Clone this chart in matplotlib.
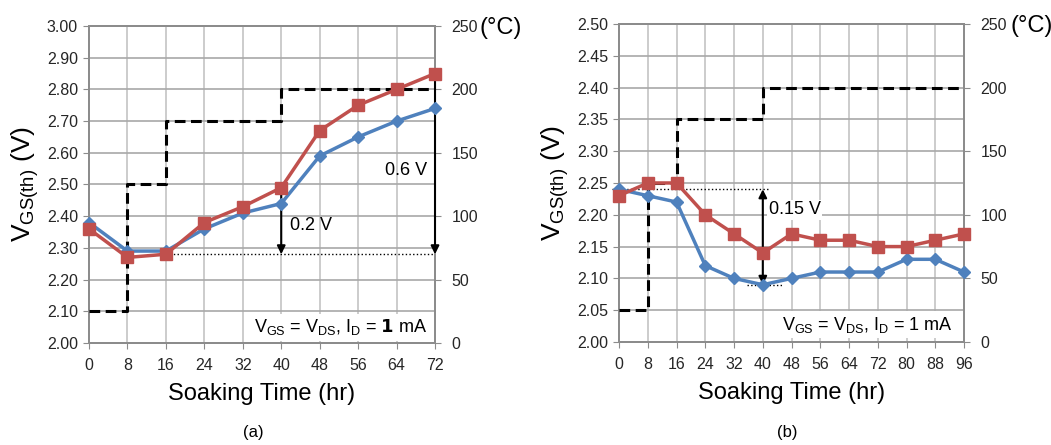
import matplotlib
matplotlib.use('Agg')
import matplotlib.pyplot as plt

plt.rcParams['font.family'] = ['Liberation Sans', 'DejaVu Sans']
plt.rcParams['mathtext.default'] = 'regular'

# (a) soaking data
time_a = [0, 8, 16, 24, 32, 40, 48, 56, 64, 72]
blue_a = [2.38, 2.29, 2.29, 2.36, 2.41, 2.44, 2.59, 2.65, 2.70, 2.74]
red_a = [2.36, 2.27, 2.28, 2.38, 2.43, 2.49, 2.67, 2.75, 2.80, 2.85]
temp_time_a = [0, 8, 16, 40, 72]
temp_a = [25, 125, 175, 200, 200]

# (b) soaking data
time_b = [0, 8, 16, 24, 32, 40, 48, 56, 64, 72, 80, 88, 96]
blue_b = [2.24, 2.23, 2.22, 2.12, 2.10, 2.09, 2.10, 2.11, 2.11, 2.11, 2.13, 2.13, 2.11]
red_b = [2.23, 2.25, 2.25, 2.20, 2.17, 2.14, 2.17, 2.16, 2.16, 2.15, 2.15, 2.16, 2.17]
temp_time_b = [0, 8, 16, 40, 96]
temp_b = [25, 125, 175, 200, 200]

temp_ticks = [0, 50, 100, 150, 200, 250]

BLUE = '#4F81BD'
RED = '#C0504D'
TXT = '#262626'
SPINE = '#8C8C8C'

fig = plt.figure(figsize=(10.51, 4.45), dpi=100)


def setup(ax, times, ylim, yticks):
    ax.set_xlim(times[0], times[-1])
    ax.set_ylim(*ylim)
    ax.set_xticks(times)
    ax.set_yticks(yticks)
    ax.set_yticklabels(['%.2f' % v for v in yticks])
    ax.grid(True, axis='y', color='#A8A8A8', linewidth=1.2)
    ax.grid(True, axis='x', color='#C4C4C4', linewidth=1.2)
    ax.set_axisbelow(True)
    for s in ax.spines.values():
        s.set_color(SPINE)
        s.set_linewidth(1.4)
    ax.tick_params(length=4, color=SPINE, labelsize=11.5, labelcolor=TXT)
    ax.tick_params(axis='x', pad=7)
    ax.tick_params(axis='y', pad=4)
    ax.set_xlabel('Soaking Time (hr)', fontsize=17, labelpad=7)
    ax.set_ylabel('V$_{GS(th)}$ (V)', fontsize=19, labelpad=4)


def twin(ax, ttimes, temps):
    ax2 = ax.twinx()
    ax2.set_ylim(0, 250)
    ax2.set_yticks(temp_ticks)
    ax2.tick_params(length=4, color=SPINE, labelsize=11.5, labelcolor=TXT, pad=8)
    for s in ax2.spines.values():
        s.set_color(SPINE)
        s.set_linewidth(1.4)
    ax.set_zorder(ax2.get_zorder() + 1)
    ax.patch.set_visible(False)
    # temperature profile drawn on the main axes, using the right-axis scale
    ax.step(ttimes, temps, where='post', color='black', linestyle=(0, (3.5, 1.8)),
            linewidth=2.2, transform=ax2.transData, zorder=3)
    return ax2


def series(ax, x, b, r):
    ax.plot(x, b, color=BLUE, linewidth=2.5, marker='D', markersize=6.5, clip_on=False, zorder=5)
    ax.plot(x, r, color=RED, linewidth=2.5, marker='s', markersize=8, clip_on=False, zorder=6)


arrow = dict(arrowstyle='<|-|>', color='black', lw=1.5, mutation_scale=12, shrinkA=0, shrinkB=0)

# ---- panel (a)
ax1 = fig.add_axes([0.0847, 0.2292, 0.3292, 0.7124])
setup(ax1, time_a, (2.0, 3.0), [2.0 + 0.1 * i for i in range(11)])
t1 = twin(ax1, temp_time_a, temp_a)
series(ax1, time_a, blue_a, red_a)
ax1.plot([16, 72], [2.28, 2.28], color='black', linestyle=':', linewidth=1)
ax1.annotate('', xy=(40, 2.50), xytext=(40, 2.28), arrowprops=arrow)
ax1.annotate('', xy=(72, 2.86), xytext=(72, 2.28), arrowprops=arrow, annotation_clip=False)
ax1.text(41.8, 2.37, '0.2 V', fontsize=13, va='center', ha='left')
ax1.text(70.3, 2.545, '0.6 V', fontsize=13, va='center', ha='right')
ax1.text(70.5, 2.05, 'V$_{GS}$ = V$_{DS}$, I$_{D}$ = $\\mathbf{1}$ mA', fontsize=13,
         ha='right', va='center', zorder=7,
         bbox=dict(facecolor='white', edgecolor='none', pad=2.5))
fig.text(0.4566, 0.937, '(°C)', fontsize=17, va='center', ha='left')
fig.text(0.2407, 0.028, '(a)', fontsize=12, ha='center', va='center')

# ---- panel (b)
ax3 = fig.add_axes([0.589, 0.2315, 0.3283, 0.7146])
setup(ax3, time_b, (2.0, 2.5), [2.0 + 0.05 * i for i in range(11)])
t3 = twin(ax3, temp_time_b, temp_b)
series(ax3, time_b, blue_b, red_b)
ax3.plot([-2, 42], [2.24, 2.24], color='black', linestyle=':', linewidth=1, clip_on=False)
ax3.plot([35.5, 45.5], [2.09, 2.09], color='black', linestyle=':', linewidth=1)
ax3.annotate('', xy=(40, 2.24), xytext=(40, 2.09), arrowprops=arrow)
ax3.text(41.7, 2.208, '0.15 V', fontsize=13, va='center', ha='left',
         bbox=dict(facecolor='white', edgecolor='none', pad=1))
ax3.text(92.9, 2.027, 'V$_{GS}$ = V$_{DS}$, I$_{D}$ = 1 mA', fontsize=13,
         ha='right', va='center', zorder=7,
         bbox=dict(facecolor='white', edgecolor='none', pad=2.5))
fig.text(0.961, 0.941, '(°C)', fontsize=17, va='center', ha='left')
fig.text(0.7488, 0.028, '(b)', fontsize=12, ha='center', va='center')

fig.savefig('out.png', dpi=100)
